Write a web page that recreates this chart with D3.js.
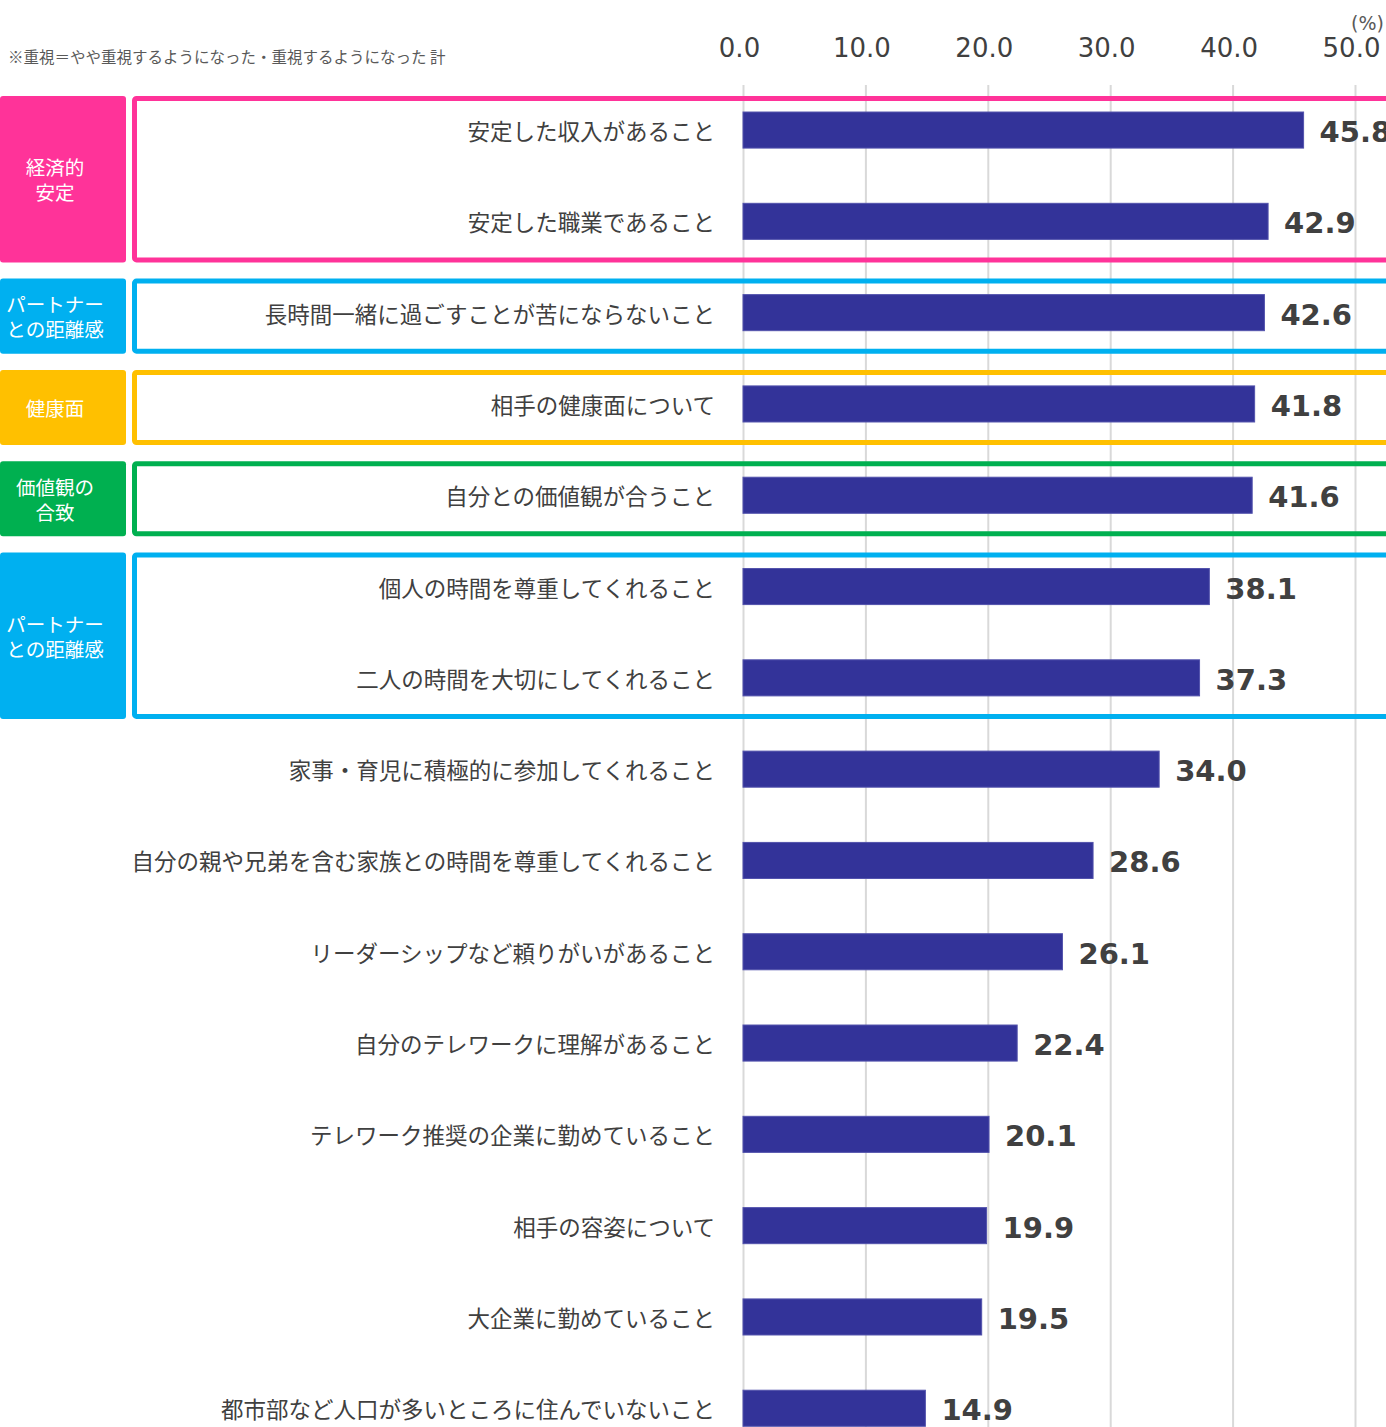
<!DOCTYPE html>
<html>
<head>
<meta charset="utf-8">
<script src="https://cdn.jsdelivr.net/npm/d3@7"></script>
<style>
  html, body { margin: 0; padding: 0; background: #fff; overflow: hidden; }
  svg { display: block; }
</style>
</head>
<body>
<div id="chart"></div>
<script>
// data
const categories = [
  '安定した収入があること',
  '安定した職業であること',
  '長時間一緒に過ごすことが苦にならないこと',
  '相手の健康面について',
  '自分との価値観が合うこと',
  '個人の時間を尊重してくれること',
  '二人の時間を大切にしてくれること',
  '家事・育児に積極的に参加してくれること',
  '自分の親や兄弟を含む家族との時間を尊重してくれること',
  'リーダーシップなど頼りがいがあること',
  '自分のテレワークに理解があること',
  'テレワーク推奨の企業に勤めていること',
  '相手の容姿について',
  '大企業に勤めていること',
  '都市部など人口が多いところに住んでいないこと'
];
const values = [45.8, 42.9, 42.6, 41.8, 41.6, 38.1, 37.3, 34.0, 28.6, 26.1, 22.4, 20.1, 19.9, 19.5, 14.9];
const xTicks = [0, 10, 20, 30, 40, 50];

const groupLabels = [
  ['経済的', '安定'],
  ['パートナー', 'との距離感'],
  ['健康面'],
  ['価値観の', '合致'],
  ['パートナー', 'との距離感']
];
const groupFirst = [0, 2, 3, 4, 5];
const groupLast = [1, 2, 3, 4, 6];
const groupColors = ['#ff3399', '#00b0f0', '#ffc000', '#00b050', '#00b0f0'];

const noteText = '※重視＝やや重視するようになった・重視するようになった 計';

// layout
const W = 1386, H = 1427;
const jpFont = '"Noto Sans CJK JP", "Noto Sans", sans-serif';
const numFont = '"DejaVu Sans", Verdana, sans-serif';
const textColor = '#404040';

const svg = d3.select('#chart').append('svg')
    .attr('width', W)
    .attr('height', H);

const x = d3.scaleLinear()
    .domain([0, 50])
    .range([743, 1355]);

const y = d3.scaleBand()
    .domain(categories)
    .range([84.4, 1453.9])
    .paddingInner(0.605)
    .paddingOuter(0.3025);

// note
svg.append('text')
    .attr('x', 8)
    .attr('y', 56)
    .attr('dominant-baseline', 'central')
    .attr('font-family', jpFont)
    .attr('font-size', 15.5)
    .attr('fill', '#595959')
    .text(noteText);

// gridlines
const grid = svg.append('g')
    .attr('transform', 'translate(0,85)')
    .call(d3.axisBottom(x).tickValues(xTicks).tickSize(H - 85).tickFormat(''));
grid.select('.domain').remove();
grid.selectAll('line').attr('stroke', '#d9d9d9').attr('stroke-width', 2);

// top axis labels
const axisTop = svg.append('g')
    .attr('transform', 'translate(0,60)')
    .call(d3.axisTop(x).tickValues(xTicks).tickSize(0).tickFormat(d3.format('.1f')));
axisTop.select('.domain').remove();
axisTop.selectAll('text')
    .attr('font-family', numFont)
    .attr('font-size', 26)
    .attr('fill', textColor)
    .attr('dy', 0)
    .attr('x', -4);

svg.append('text')
    .attr('x', 1384)
    .attr('y', 23)
    .attr('text-anchor', 'end')
    .attr('dominant-baseline', 'central')
    .attr('font-family', numFont)
    .attr('font-size', 19)
    .attr('fill', '#595959')
    .text('(%)');

// group boxes
const boxTop = (i) => y(categories[groupFirst[i]]) - 16;
const boxBottom = (i) => y(categories[groupLast[i]]) + y.bandwidth() + 23;

const groups = svg.selectAll('.group')
    .data(groupLabels)
    .enter()
    .append('g')
    .attr('class', 'group');

groups.append('rect')
    .attr('x', 0)
    .attr('y', (d, i) => boxTop(i))
    .attr('width', 126)
    .attr('height', (d, i) => boxBottom(i) - boxTop(i))
    .attr('rx', 3)
    .attr('fill', (d, i) => groupColors[i]);

groups.append('rect')
    .attr('x', 134.5)
    .attr('y', (d, i) => boxTop(i) + 2.5)
    .attr('width', W)
    .attr('height', (d, i) => boxBottom(i) - boxTop(i) - 5)
    .attr('rx', 2)
    .attr('fill', 'none')
    .attr('stroke', (d, i) => groupColors[i])
    .attr('stroke-width', 5);

groups.each(function(lines, i) {
  const cy = (boxTop(i) + boxBottom(i)) / 2;
  const lh = 25;
  d3.select(this).selectAll('.glabel')
      .data(lines)
      .enter()
      .append('text')
      .attr('class', 'glabel')
      .attr('x', 55)
      .attr('y', (d, j) => cy + (j - (lines.length - 1) / 2) * lh)
      .attr('text-anchor', 'middle')
      .attr('dominant-baseline', 'central')
      .attr('font-family', jpFont)
      .attr('font-size', 19.5)
      .attr('fill', '#fff')
      .text((d) => d);
});

// bars
svg.selectAll('.bar')
    .data(values)
    .enter()
    .append('rect')
    .attr('class', 'bar')
    .attr('x', x(0))
    .attr('y', (d, i) => y(categories[i]))
    .attr('width', (d) => x(d) - x(0))
    .attr('height', y.bandwidth())
    .attr('fill', '#333399')
    .attr('stroke', '#5252ac')
    .attr('stroke-width', 1);

// category labels
svg.selectAll('.cat')
    .data(categories)
    .enter()
    .append('text')
    .attr('class', 'cat')
    .attr('x', 715)
    .attr('y', (d) => y(d) + y.bandwidth() / 2)
    .attr('text-anchor', 'end')
    .attr('dominant-baseline', 'central')
    .attr('font-family', jpFont)
    .attr('font-size', 22.5)
    .attr('fill', textColor)
    .text((d) => d);

// value labels
svg.selectAll('.val')
    .data(values)
    .enter()
    .append('text')
    .attr('class', 'val')
    .attr('x', (d) => x(d) + 16)
    .attr('y', (d, i) => y(categories[i]) + y.bandwidth() / 2 + 2)
    .attr('dominant-baseline', 'central')
    .attr('font-family', numFont)
    .attr('font-weight', 'bold')
    .attr('font-size', 29)
    .attr('fill', textColor)
    .text((d) => d.toFixed(1));
</script>
</body>
</html>
